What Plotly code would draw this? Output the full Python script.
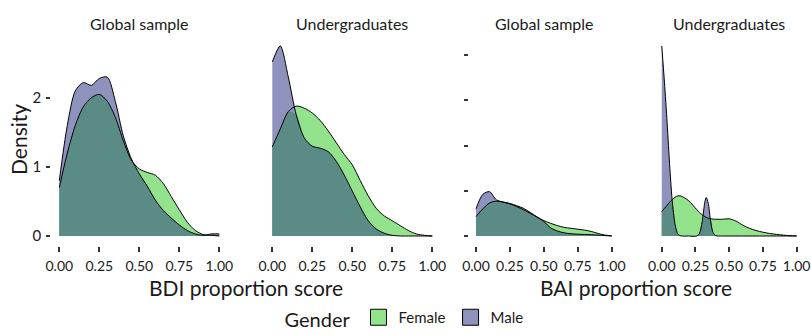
import numpy as np
import plotly.graph_objects as go

W, H = 811, 335

# ---------------- data ----------------
grid = [0.00, 0.05, 0.10, 0.15, 0.20, 0.25, 0.30, 0.35, 0.40, 0.45, 0.50,
        0.55, 0.60, 0.65, 0.70, 0.75, 0.80, 0.85, 0.90, 0.95, 1.00]

bdi_global_female = [0.70, 1.20, 1.60, 1.87, 2.00, 2.05, 1.95, 1.72, 1.38, 1.10, 0.97,
                     0.92, 0.88, 0.76, 0.57, 0.38, 0.20, 0.08, 0.02, 0.01, 0.00]
bdi_global_male = [0.80, 1.60, 2.10, 2.22, 2.18, 2.28, 2.30, 1.95, 1.45, 1.12, 0.90,
                   0.72, 0.52, 0.37, 0.26, 0.16, 0.08, 0.03, 0.01, 0.03, 0.03]

bdi_ug_female = [1.29, 1.55, 1.80, 1.88, 1.85, 1.78, 1.67, 1.52, 1.35, 1.18, 1.03,
                 0.80, 0.58, 0.40, 0.29, 0.22, 0.15, 0.08, 0.03, 0.01, 0.00]
bdi_ug_male = [2.52, 2.75, 2.30, 1.75, 1.42, 1.30, 1.27, 1.22, 1.08, 0.88, 0.65,
               0.42, 0.22, 0.10, 0.04, 0.01, 0.00, 0.00, 0.00, 0.00, 0.00]

bai_global_female = [2.15, 3.00, 3.65, 3.85, 3.75, 3.55, 3.25, 2.90, 2.50, 2.10, 1.70,
                     1.40, 1.15, 0.95, 0.85, 0.75, 0.65, 0.50, 0.28, 0.10, 0.03]
bai_global_male = [3.00, 4.60, 4.90, 4.00, 3.75, 3.60, 3.35, 3.05, 2.60, 2.10, 1.60,
                   0.90, 0.55, 0.35, 0.25, 0.20, 0.17, 0.14, 0.10, 0.04, 0.00]

bai_ug_grid = [0.00, 0.02, 0.04, 0.06, 0.08, 0.10, 0.12, 0.14, 0.20, 0.26, 0.28, 0.30,
               0.32, 0.33, 0.345, 0.36, 0.38, 0.40, 0.45, 0.50, 0.55, 0.60, 0.65,
               0.70, 0.75, 0.80, 0.85, 0.90, 0.95, 1.00]
bai_ug_female = [2.70, 3.05, 3.40, 3.75, 4.05, 4.30, 4.43, 4.43, 3.90, 2.90, 2.60, 2.35,
                 2.15, 2.05, 1.97, 1.92, 1.87, 1.85, 1.85, 1.90, 1.65, 1.20, 0.85,
                 0.60, 0.42, 0.28, 0.18, 0.10, 0.04, 0.01]
bai_ug_male = [21.0, 17.0, 12.5, 7.5, 3.5, 1.2, 0.2, 0.02, 0.0, 0.0, 0.3, 1.6,
               3.8, 4.25, 3.6, 1.9, 0.4, 0.05, 0.0, 0.0, 0.0, 0.0, 0.0,
               0.0, 0.0, 0.0, 0.0, 0.0, 0.0, 0.0]

facet_labels = ["Global sample", "Undergraduates", "Global sample", "Undergraduates"]
genders = ["Female", "Male"]

# ---------------- style ----------------
FEMALE_COL = "#93E28C"
MALE_COL = "#8E92BD"
OVERLAP_COL = "#5B8B85"
FONT = "Lato"
TXT = "#1a1a1a"

panels = [
    (grid, bdi_global_female, bdi_global_male, "x", "y"),
    (grid, bdi_ug_female, bdi_ug_male, "x2", "y2"),
    (grid, bai_global_female, bai_global_male, "x3", "y3"),
    (bai_ug_grid, bai_ug_female, bai_ug_male, "x4", "y4"),
]

fig = go.Figure()
for xs, f, m, xa, ya in panels:
    f = np.array(f)
    m = np.array(m)
    ov = np.minimum(f, m)
    common = dict(x=xs, xaxis=xa, yaxis=ya, mode="lines", fill="tozeroy",
                  showlegend=False, hoverinfo="skip",
                  line=dict(width=0, shape="spline", smoothing=0.8))
    fig.add_trace(go.Scatter(y=f, fillcolor=FEMALE_COL, **common))
    fig.add_trace(go.Scatter(y=m, fillcolor=MALE_COL, **common))
    fig.add_trace(go.Scatter(y=ov, fillcolor=OVERLAP_COL, **common))
    for yy in (f, m):
        fig.add_trace(go.Scatter(x=xs, y=yy, xaxis=xa, yaxis=ya, mode="lines",
                                 showlegend=False, hoverinfo="skip",
                                 line=dict(color="black", width=1, shape="spline",
                                           smoothing=0.8)))

# legend entries
for g, c in zip(genders, [FEMALE_COL, MALE_COL]):
    fig.add_trace(go.Scatter(x=[None], y=[None], mode="markers", name=g,
                             marker=dict(symbol="square", size=18, color=c,
                                         line=dict(color="black", width=1))))


def px_x(p):
    return p / W


def px_y(p):
    return (H - p) / H


xdoms = [(51.3, 227.3), (264.3, 440.3), (469.2, 618.5), (655.0, 803.4)]
ytop, ybot = 36.5, 245.5
xticks = [0, 0.25, 0.5, 0.75, 1.0]
xtext = ["0.00", "0.25", "0.50", "0.75", "1.00"]

layout = dict(
    width=W, height=H, margin=dict(l=0, r=0, t=0, b=0, autoexpand=False),
    plot_bgcolor="white", paper_bgcolor="white",
    font=dict(family=FONT, color=TXT),
    legend=dict(orientation="h", x=0.5, xanchor="center", y=px_y(319), yanchor="middle",
                title=dict(text="Gender", font=dict(size=20, family=FONT)),
                font=dict(size=15, family=FONT), itemwidth=30, tracegroupgap=0),
)
for i, (a, b) in enumerate(xdoms):
    k = "" if i == 0 else str(i + 1)
    layout["xaxis" + k] = dict(
        domain=[px_x(a), px_x(b)], range=[-0.05, 1.05], anchor="y" + k,
        tickvals=xticks, ticktext=xtext, ticks="outside", ticklen=5, tickwidth=1.5,
        tickcolor="#333", tickfont=dict(size=14, family=FONT, color=TXT),
        ticklabelstandoff=3, automargin=False,
        showgrid=False, zeroline=False, showline=False, fixedrange=True)
    if i < 2:
        yr = [-0.1375, 2.8875]
        yt = [0, 1, 2]
        ytt = ["0", "1", "2"]
    else:
        yr = [-1.05, 22.05]
        yt = [0, 5, 10, 15, 20]
        ytt = [" "] * 5
    show_ticks = i in (0, 2)
    layout["yaxis" + k] = dict(
        domain=[px_y(ybot), px_y(ytop)], range=yr, anchor="x" + k,
        tickvals=yt if show_ticks else [], ticktext=ytt if show_ticks else [],
        ticks="outside" if show_ticks else "", ticklen=4, tickwidth=1.5,
        tickcolor="#333", tickfont=dict(size=15, family=FONT, color=TXT),
        ticklabelstandoff=2, automargin=False,
        showgrid=False, zeroline=False, showline=False, fixedrange=True)

fig.update_layout(**layout)

annotations = []
for (a, b), lab in zip(xdoms, facet_labels):
    annotations.append(dict(text=lab, x=px_x((a + b) / 2), y=px_y(23), xref="paper",
                            yref="paper", showarrow=False, xanchor="center",
                            yanchor="middle", font=dict(size=16, family=FONT)))
annotations.append(dict(text="Density", x=px_x(18), y=px_y(140), xref="paper", yref="paper",
                        showarrow=False, textangle=-90, xanchor="center", yanchor="middle",
                        font=dict(size=21, family=FONT)))
annotations.append(dict(text="BDI proportion score", x=px_x(246), y=px_y(287), xref="paper",
                        yref="paper", showarrow=False, xanchor="center", yanchor="middle",
                        font=dict(size=21, family=FONT)))
annotations.append(dict(text="BAI proportion score", x=px_x(636), y=px_y(287), xref="paper",
                        yref="paper", showarrow=False, xanchor="center", yanchor="middle",
                        font=dict(size=21, family=FONT)))
fig.update_layout(annotations=annotations)

fig.write_html("out.html")
